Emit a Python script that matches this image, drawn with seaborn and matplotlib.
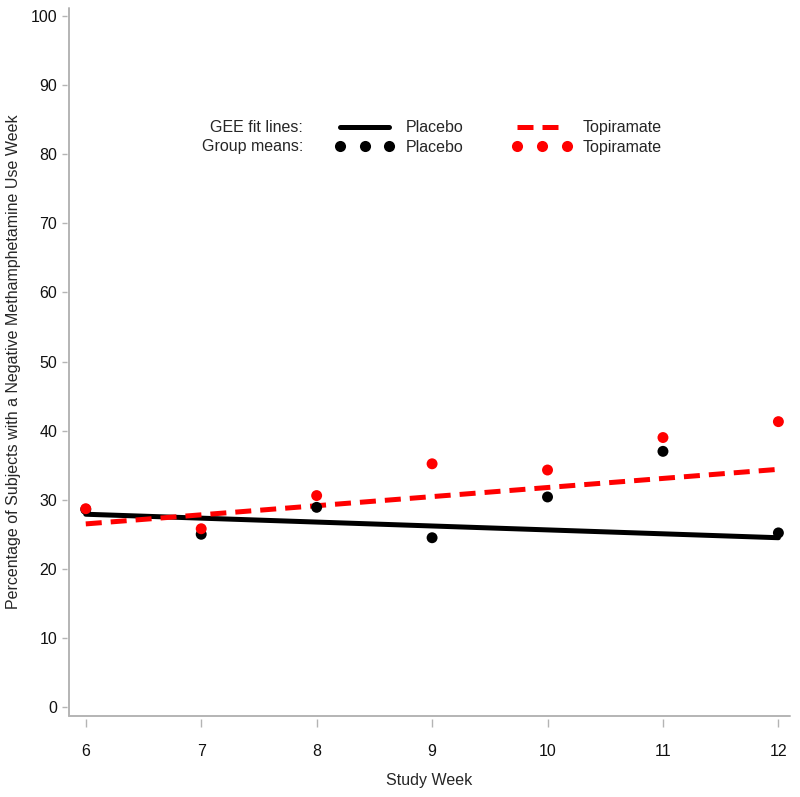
import seaborn as sns
import pandas as pd
import matplotlib.pyplot as plt
from matplotlib.lines import Line2D

# group means
weeks = [6, 7, 8, 9, 10, 11, 12]
placebo_means = [28.6, 25.0, 28.9, 24.5, 30.4, 37.0, 25.2]
topiramate_means = [28.7, 25.8, 30.6, 35.2, 34.3, 39.0, 41.3]

# GEE fit lines (straight, so the two ends are enough)
fit_weeks = [6, 12]
placebo_fit = [27.9, 24.5]
topiramate_fit = [26.5, 34.4]

y_ticks = list(range(0, 101, 10))

sns.set_theme(style="white")
plt.rcParams["font.family"] = ["Liberation Sans", "DejaVu Sans"]
fs = 11.5

df_means = pd.DataFrame({
    "week": weeks * 2,
    "pct": placebo_means + topiramate_means,
    "group": ["Placebo"] * len(weeks) + ["Topiramate"] * len(weeks),
})
df_fit = pd.DataFrame({
    "week": fit_weeks * 2,
    "pct": placebo_fit + topiramate_fit,
    "group": ["Placebo"] * 2 + ["Topiramate"] * 2,
})

fig = plt.figure(figsize=(8, 7.97), dpi=100)
ax = fig.add_axes([0.086, 0.1016, 0.902, 0.8884])

sns.lineplot(data=df_fit[df_fit.group == "Placebo"], x="week", y="pct",
             color="black", lw=3.6, ax=ax, legend=False)
sns.lineplot(data=df_fit[df_fit.group == "Topiramate"], x="week", y="pct",
             color="red", lw=3.6, ax=ax, legend=False)
ax.lines[-1].set_dashes([3.2, 1.8])
sns.scatterplot(data=df_means, x="week", y="pct", hue="group",
                palette={"Placebo": "black", "Topiramate": "red"},
                s=62, edgecolor="none", ax=ax, legend=False, zorder=3)

ax.set_xlim(5.853, 12.104)
ax.set_ylim(-1.3, 101.16)
ax.set_xticks(weeks)
ax.set_yticks(y_ticks)

gray = "#b4b4b4"
for side in ["top", "right", "bottom", "left"]:
    ax.spines[side].set_visible(False)
ax.spines["bottom"].set_position(("outward", 2.2))
ax.spines["left"].set_position(("outward", 1.2))
ax.plot([0, 1], [0, 0], transform=ax.transAxes, color=gray, lw=1.4, clip_on=False)
ax.plot([0, 0], [0, 1], transform=ax.transAxes, color=gray, lw=1.4, clip_on=False)

ax.tick_params(axis="x", bottom=True, length=5.8, width=1, color=gray,
               pad=12, labelsize=fs, labelcolor="#111111")
ax.tick_params(axis="y", left=True, length=3.6, width=1, color=gray,
               pad=3.5, labelsize=fs, labelcolor="#111111")

ax.set_xlabel("Study Week", fontsize=fs, labelpad=10)
ax.set_ylabel("Percentage of Subjects with a Negative Methamphetamine Use Week",
              fontsize=fs, labelpad=7)

handles = [
    Line2D([], [], color="black", lw=3.6),
    Line2D([], [], color="black", ls="None", marker="o", markersize=8, markeredgewidth=0),
    Line2D([], [], color="red", lw=3.6, dashes=[3.2, 1.8]),
    Line2D([], [], color="red", ls="None", marker="o", markersize=8, markeredgewidth=0),
]
labels = ["Placebo", "Placebo", "Topiramate", "Topiramate"]
ax.legend(handles, labels, ncol=2, loc="upper left", bbox_to_anchor=(0.369, 0.8415),
          frameon=False, fontsize=fs, numpoints=3, handlelength=3.7,
          handletextpad=0.7, columnspacing=3.1, borderpad=0, borderaxespad=0,
          labelspacing=0.3)
ax.text(0.3245, 0.8305, "GEE fit lines:", transform=ax.transAxes, ha="right",
        va="center", fontsize=fs)
ax.text(0.3245, 0.805, "Group means:", transform=ax.transAxes, ha="right",
        va="center", fontsize=fs)

fig.savefig("out.png", dpi=100)
